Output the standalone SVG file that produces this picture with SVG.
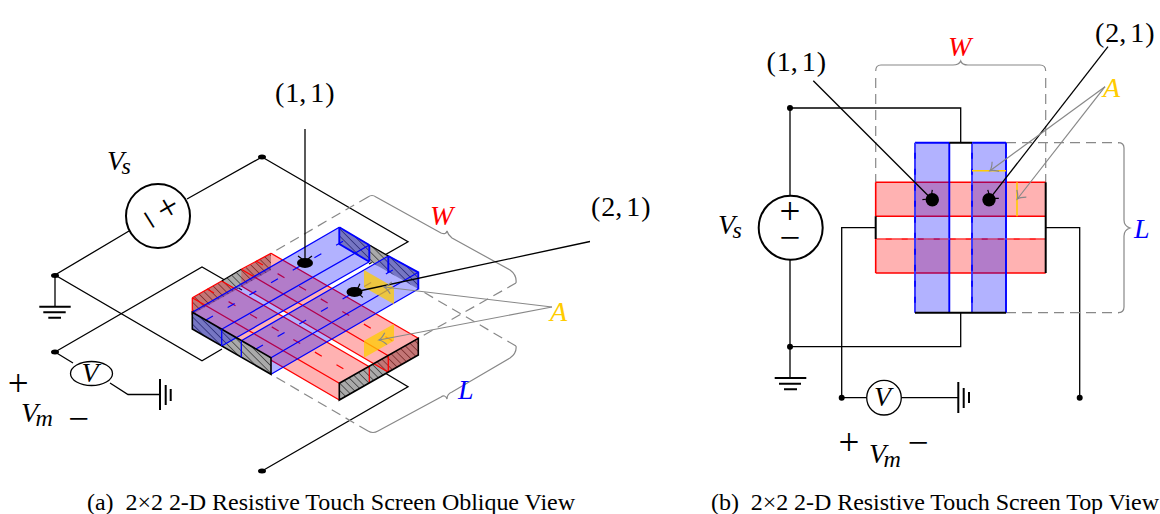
<svg xmlns="http://www.w3.org/2000/svg" width="1160" height="514" viewBox="0 0 1160 514">
<style>
text{font-family:"Liberation Serif","Times New Roman",serif;fill:#000}
.lab{font-size:28px}
.it{font-style:italic}
.sub{font-size:24px;font-style:italic}
.sym{font-size:37px;text-anchor:middle}
.cap{font-size:24px}
.w{fill:none;stroke:#000;stroke-width:1.3}
.thick{fill:none;stroke:#000;stroke-width:2}
.g{fill:none;stroke:#888;stroke-width:1.2}
.gd{fill:none;stroke:#888;stroke-width:1.2;stroke-dasharray:10 6}
.rf{fill:#f00;fill-opacity:.3;stroke:none}
.bf{fill:#00f;fill-opacity:.3;stroke:none}
.rl{fill:none;stroke:#f00;stroke-width:1.3}
.bl{fill:none;stroke:#00f;stroke-width:1.3}
.rt{fill:none;stroke:#f00;stroke-width:1.6}
.bt{fill:none;stroke:#00f;stroke-width:1.9}
.rd{fill:none;stroke:#f00;stroke-width:1.2;stroke-dasharray:8 17}
.bd{fill:none;stroke:#00f;stroke-width:1.2;stroke-dasharray:8 17}
.wd{fill:none;stroke:#fff;stroke-opacity:.22;stroke-width:1.9;stroke-dasharray:10 6}
.face{fill:#aaa;stroke:none}
.hatch{fill:url(#h);stroke:none}
.y{fill:#fc0;fill-opacity:.75;stroke:none}
.yl{fill:none;stroke:#fc0;stroke-width:1.6}
</style>
<defs>
<pattern id="h" patternUnits="userSpaceOnUse" width="5.2" height="5.2" patternTransform="rotate(-45)"><path d="M0,0V5.2" stroke="#000" stroke-width="1"/></pattern>
<marker id="ga" markerUnits="userSpaceOnUse" markerWidth="16" markerHeight="16" refX="10" refY="8" orient="auto" overflow="visible"><path d="M3,2Q7,7 10,8Q7,9 3,14" fill="none" stroke="#888" stroke-width="1.2"/></marker>
<marker id="ka" markerUnits="userSpaceOnUse" markerWidth="16" markerHeight="16" refX="10" refY="8" orient="auto" overflow="visible"><path d="M3,1Q7,7 10,8Q7,9 3,15" fill="none" stroke="#000" stroke-width="1.2"/></marker>
</defs>

<g id="oblique-connectors">
<path class="w" d="M262,157L187,199M129,231L55,275L202,360.7L222,349"/>
<path class="w" d="M55,352L202,267L242,290"/>
<path class="w" d="M262,157L408,241.7L369,264"/>
<path class="w" d="M262,471L408,386.7L380,370"/>
<path class="w" d="M55,275V306"/>
<path class="w" d="M55,352L73,363M110,383L128,394.5H160"/>
<path class="thick" d="M39.3,306.7H70.7M43.3,312.3H65.7M48.3,317.7H61"/>
<path class="thick" d="M160,379V410M165.7,385V405M170.7,389V401"/>
<path class="gd" d="M368,197L271,253.3M516,283L418.3,338.3M516,346L418.3,289M368,431L271,374.3"/>
<path class="g" d="M368,197Q372,194 376,197L441,233Q446,235 447,231Q448,235 452,238L510,270Q517,275 516,283"/>
<path class="g" d="M516,346Q517,353 510,358L452,392Q447,394 447,399Q445,394 441,397L378,431Q373,434 368,431"/>
</g>

<g id="oblique-screen">
<g id="red-layer">
<path class="face" d="M192.3,297.7L271,253.3V270L192.3,314.3Z"/>
<path class="hatch" d="M192.3,297.7L271,253.3V270L192.3,314.3Z"/>
<path class="face" d="M339.3,383.3L418.3,338.3V355L339.3,400Z"/>
<path class="hatch" d="M339.3,383.3L418.3,338.3V355L339.3,400Z"/>
<path class="rf" d="M192.3,297.7L221.7,281L369.3,366.7L339.3,383.3V400L192.3,314.3Z"/>
<path class="rf" d="M241.3,269.3L271,253.3L418.3,338.3V355L388.3,372.3L241.3,286Z"/>
<path class="rl" d="M192.3,297.7V314.3L339.3,400M192.3,297.7L221.7,281M241.3,269.3L271,253.3M192.3,297.7L339.3,383.3M221.7,281L369.3,366.7M241.3,269.3L388.3,355.7M271,253.3L418.3,338.3M241.3,286L388.3,372.3M369.3,366.7V383M388.3,355.7V372"/>
<path class="rd" d="M207,289L354,375M256,261L403,347"/>
<path class="w" d="M221.7,281L241.3,269.3"/>
<path d="M339.3,383.3L418.3,338.3V355L339.3,400Z" fill="none" stroke="#000" stroke-width="1.6"/>
</g>
<g id="blue-layer">
<path class="face" d="M192.3,312.3L271,357.7V374.3L192.3,329Z"/>
<path class="hatch" d="M192.3,312.3L271,357.7V374.3L192.3,329Z"/>
<path class="face" d="M339.3,227.3L418.3,272.3V289L339.3,244Z"/>
<path class="hatch" d="M339.3,227.3L418.3,272.3V289L339.3,244Z"/>
<path class="bf" d="M339.3,227.3L369.3,245V261.7L221.7,346L192.3,329V312.3Z"/>
<path class="bf" d="M388.3,256L418.3,272.3V289L271,374.3V357.7L241.3,340.7Z"/>
<path class="bl" d="M192.3,312.3L339.3,227.3M221.7,329.3L369.3,245M241.3,340.7L388.3,256M271,357.7L418.3,272.3M271,374.3L418.3,289M369.3,261.7L221.7,346"/>
<path class="bd" d="M206,320L354,235M256,349L403,264"/>
<path class="w" d="M369.3,245L388.3,256"/>
<path class="bt" d="M339.3,227.3L369.3,245M388.3,256L418.3,272.3V289M339.3,227.3V244L369.3,261.7M369.3,245V261.7M388.3,256V273"/>
<path d="M192.3,312.3L271,357.7V374.3L192.3,329Z" fill="none" stroke="#000" stroke-width="1.6"/>
<path d="M221.7,329.3V346M241.3,340.7V357.3" class="bl"/>
</g>
<path class="y" d="M364,270L394,287.3V304.3L364,287.3Z"/>
<path class="y" d="M364,340.7L394,324V340.7L364,357.7Z"/>
</g>

<g id="oblique-leaders">
<path class="w" d="M305,129V263" marker-end="url(#ka)"/>
<path class="w" d="M590,241.5L354.5,292" marker-end="url(#ka)"/>
<ellipse cx="305" cy="263" rx="8" ry="5"/>
<ellipse cx="354.5" cy="292" rx="8" ry="5"/>
<path class="g" d="M552,307L384,287" marker-end="url(#ga)"/>
<path class="g" d="M552,307L379,340" marker-end="url(#ga)"/>
</g>

<g id="oblique-vs">
<circle cx="158" cy="216" r="32" fill="#fff" stroke="#000" stroke-width="2"/>
<text class="sym" x="169" y="219.4" transform="rotate(-30 169 210)">+</text>
<text class="sym" x="146.7" y="231" transform="rotate(58 146.7 221.7)">−</text>
<text class="lab it" x="107" y="170">V<tspan class="sub" dx="-2.5" dy="4">s</tspan></text>
</g>
<g id="oblique-node-a"><ellipse cx="55" cy="275.5" rx="4" ry="2.5"/></g>
<g id="oblique-node-b"><ellipse cx="55" cy="352" rx="4" ry="2.5"/></g>
<g id="oblique-node-c"><ellipse cx="262" cy="157" rx="4" ry="2.5"/></g>
<g id="oblique-node-d"><ellipse cx="262" cy="471" rx="4" ry="2.5"/></g>
<g id="oblique-meter">
<ellipse cx="91.5" cy="373.5" rx="21" ry="12" fill="#fff" stroke="#000" stroke-width="1.3"/>
<text class="lab it" x="81.5" y="382.3">V</text>
</g>
<g id="oblique-labels">
<text class="sym" x="18.3" y="396">+</text>
<text class="lab it" x="21" y="421.7">V<tspan class="sub" dx="-2.5" dy="4">m</tspan></text>
<text class="sym" x="78.7" y="431">−</text>
<text class="lab" x="275" y="102">(<tspan dx="1">1</tspan>,<tspan dx="4">1</tspan><tspan dx="1">)</tspan></text>
<text class="lab" x="591" y="216">(<tspan dx="1">2</tspan>,<tspan dx="4">1</tspan><tspan dx="1">)</tspan></text>
<text class="lab it" x="430" y="225" style="fill:#f00">W</text>
<text class="lab it" x="550" y="321" style="fill:#fc0">A</text>
<text class="lab it" x="458" y="399" style="fill:#00f">L</text>
</g>

<g id="top-connectors">
<path class="w" d="M790,108H960.7V142.7M790,108V196M790,260V346.7M790,346.7H960.7V312.7M790,346.7V378"/>
<path class="w" d="M875.7,227.7H841.7V397.7H866.7M901.3,397.7H958.3M1045.7,227.7H1079.7V397.7"/>
<path class="thick" d="M774.7,378H806.3M779,383.7H801M784,389.3H797M958.3,382V413M963.7,388V408M969,392V403"/>
<path class="gd" d="M875.7,78V182M1045.7,78V182M1006,142.7H1119M1006,312.7H1119"/>
<path class="g" d="M875.7,71Q875.7,65 881,65H953Q959,65 960.7,61Q962,65 968,65H1040Q1045.7,65 1045.7,71"/>
<path class="g" d="M1118,142.7Q1124,142.7 1124,148V220Q1124,226 1130,228Q1124,230 1124,236V307Q1124,312.7 1118,312.7"/>
</g>

<g id="top-screen">
<path class="rf" d="M875.7,182.3H1045.7V216.3H875.7Z"/>
<path class="rf" d="M875.7,239H1045.7V273H875.7Z"/>
<path class="rt" d="M875.7,182.3H1045.7M875.7,216.3H1045.7M875.7,182.3V216.3M875.7,239H1045.7M875.7,273H1045.7M875.7,239V273"/>
<path class="bf" d="M915,142.7H949.3V312.7H915Z"/>
<path class="bf" d="M972,142.7H1006V312.7H972Z"/>
<path class="bt" d="M915,142.7H949.3M915,142.7V312.7M949.3,142.7V312.7M972,142.7H1006M972,142.7V312.7M1006,142.7V312.7"/>
<path class="wd" d="M915,142.7V312.7M972,142.7V312.7M875.7,239H1045.7"/>
<path d="M949.3,142.7H972M915,312.7H1006M875.7,216.3V239M1045.7,182.3V273" class="thick"/>
<path class="yl" d="M972,170.7H1006M1017,182.3V216.3"/>
</g>

<g id="top-leaders">
<path class="w" d="M813.3,80.7L932.3,199.7" marker-end="url(#ka)"/>
<path class="w" d="M1108,46.7L989,199.7" marker-end="url(#ka)"/>
<circle cx="932.3" cy="199.7" r="6.7"/>
<circle cx="989" cy="199.7" r="6.7"/>
<path class="g" d="M1105,86.7L990,170.7" marker-end="url(#ga)"/>
<path class="g" d="M1105,86.7L1017.3,199" marker-end="url(#ga)"/>
</g>

<g id="top-vs">
<circle cx="790.7" cy="227.7" r="32" fill="#fff" stroke="#000" stroke-width="2"/>
<text class="sym"><tspan x="790" y="224.4">+</tspan><tspan x="790" y="250">−</tspan></text>
<text class="lab it" x="718" y="234.3">V<tspan class="sub" dx="-2.5" dy="4">s</tspan></text>
</g>
<g id="top-node-a"><circle cx="790" cy="108" r="3"/></g>
<g id="top-node-b"><circle cx="790" cy="346.7" r="3"/></g>
<g id="top-node-c"><circle cx="841.7" cy="397.7" r="3"/></g>
<g id="top-node-d"><circle cx="1079.7" cy="397.7" r="3"/></g>
<g id="top-meter">
<circle cx="884" cy="397.7" r="17.3" fill="#fff" stroke="#000" stroke-width="1.3"/>
<text class="lab it" x="874" y="406">V</text>
</g>
<g id="top-labels">
<text class="sym" x="849" y="455">+</text>
<text class="lab it" x="869" y="463">V<tspan class="sub" dx="-2.5" dy="4">m</tspan></text>
<text class="sym" x="918.3" y="455">−</text>
<text class="lab" x="766.5" y="71">(<tspan dx="1">1</tspan>,<tspan dx="4">1</tspan><tspan dx="1">)</tspan></text>
<text class="lab" x="1095" y="41.7">(<tspan dx="1">2</tspan>,<tspan dx="4">1</tspan><tspan dx="1">)</tspan></text>
<text class="lab it" x="948" y="55.7" style="fill:#f00">W</text>
<text class="lab it" x="1103" y="96.7" style="fill:#fc0">A</text>
<text class="lab it" x="1134" y="238" style="fill:#00f">L</text>
</g>

<g id="captions">
<text class="cap" x="87" y="509.5" textLength="488" xml:space="preserve">(a)  2×2 2-D Resistive Touch Screen Oblique View</text>
<text class="cap" x="711" y="509.5" textLength="448" xml:space="preserve">(b)  2×2 2-D Resistive Touch Screen Top View</text>
</g>
</svg>
